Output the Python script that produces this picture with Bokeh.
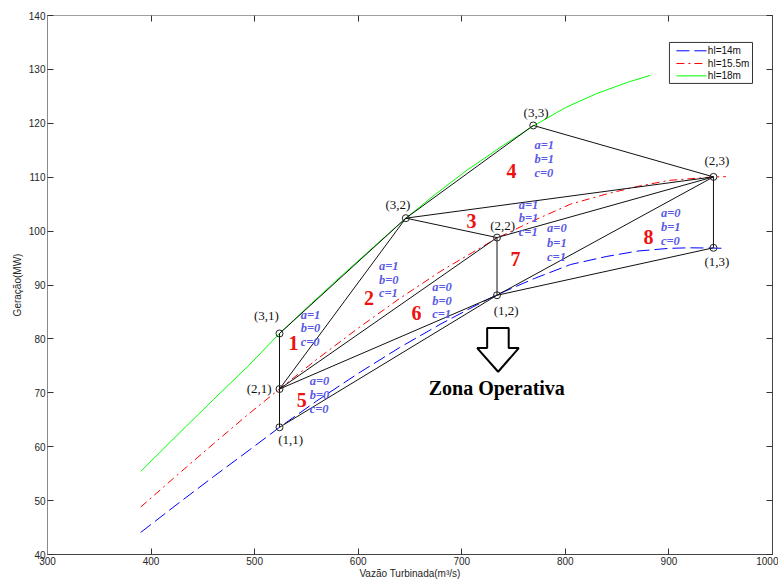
from bokeh.plotting import figure
from bokeh.models import Range1d, LinearAxis, FixedTicker, CustomJSTickFormatter
from bokeh.core.properties import value
from bokeh.embed import file_html
from bokeh.resources import INLINE

# ---------------- data ----------------
x_ticks = [300, 400, 500, 600, 700, 800, 900, 1000]
y_ticks = [40, 50, 60, 70, 80, 90, 100, 110, 120, 130, 140]

# hl = 14 m (blue dashed)
q_14 = [390, 425, 460, 495, 524, 560, 600, 640, 680, 710, 734, 770, 805, 840, 870, 900, 920, 943, 955]
g_14 = [44.1, 49.3, 54.4, 59.4, 63.6, 68.5, 73.6, 78.4, 82.8, 85.85, 88.2, 91.2, 93.8, 95.3, 96.3, 96.8, 96.9, 96.85, 96.8]
# hl = 15.5 m (red dash-dot)
q_155 = [390, 425, 460, 495, 524, 560, 600, 640, 680, 710, 734, 770, 805, 840, 870, 900, 943, 955]
g_155 = [48.8, 54.7, 60.5, 66.2, 70.7, 76.2, 82.0, 87.5, 92.6, 96.0, 98.7, 102.0, 105.0, 106.9, 108.3, 109.4, 110.06, 110.1]
# hl = 18 m (green solid)
q_18 = [390, 425, 460, 495, 524, 555, 585, 615, 646, 675, 705, 740, 769, 800, 830, 860, 882]
g_18 = [55.4, 62.1, 68.7, 75.2, 81.0, 86.6, 91.9, 97.1, 102.4, 106.9, 111.3, 115.9, 119.5, 122.9, 125.5, 127.6, 128.9]

# grid nodes (i,j)
node_names = ["(3,1)", "(2,1)", "(1,1)", "(3,2)", "(2,2)", "(1,2)", "(3,3)", "(2,3)", "(1,3)"]
node_q = [524, 524, 524, 646, 734, 734, 769, 943, 943]
node_g = [81.0, 70.7, 63.6, 102.4, 98.8, 88.1, 119.6, 110.06, 96.9]
# label anchor positions of node names
node_label_q = [511.4, 504.4, 534.8, 638.3, 739.5, 742.8, 771.7, 946.3, 946.3]
node_label_g = [84.4, 70.8, 61.3, 105.0, 101.0, 85.2, 122.0, 113.1, 94.3]

edges = [("(3,1)", "(2,1)"), ("(2,1)", "(1,1)"), ("(3,1)", "(3,2)"), ("(3,2)", "(3,3)"),
         ("(2,1)", "(3,2)"), ("(2,1)", "(2,2)"), ("(2,1)", "(1,2)"), ("(1,1)", "(1,2)"),
         ("(3,2)", "(2,2)"), ("(3,2)", "(2,3)"), ("(3,3)", "(2,3)"), ("(2,2)", "(1,2)"),
         ("(2,2)", "(2,3)"), ("(1,2)", "(2,3)"), ("(1,2)", "(1,3)"), ("(2,3)", "(1,3)")]

# region numbers
region_labels = ["1", "2", "3", "4", "5", "6", "7", "8"]
region_q = [537.4, 610.3, 709.4, 747.9, 545.4, 656.3, 751.8, 880.3]
region_g = [79.2, 87.5, 101.85, 111.1, 68.6, 84.8, 94.9, 98.9]

# binary labels a, b, c for each region
abc_texts = ["a=1", "b=0", "c=0",   # 1
             "a=1", "b=0", "c=1",   # 2
             "a=1", "b=1", "c=1",   # 3
             "a=1", "b=1", "c=0",   # 4
             "a=0", "b=0", "c=0",   # 5
             "a=0", "b=0", "c=1",   # 6
             "a=0", "b=1", "c=1",   # 7
             "a=0", "b=1", "c=0"]   # 8
abc_q = [544.4] * 3 + [620.0] * 3 + [755.0] * 3 + [770.1] * 3 + [553.1] * 3 + [671.4] * 3 + [782.3] * 3 + [892.3] * 3
abc_g = [84.44, 81.98, 79.5,
         93.6, 91.0, 88.5,
         104.9, 102.5, 99.8,
         115.9, 113.3, 110.8,
         72.1, 69.5, 67.0,
         89.7, 87.1, 84.6,
         100.5, 97.8, 95.2,
         103.3, 100.7, 98.1]

# "Zona Operativa" arrow outline and caption
arrow_q = [724.5, 745.3, 745.3, 755.0, 735.1, 714.9, 724.5]
arrow_g = [82.0, 82.0, 78.3, 78.3, 73.9, 78.3, 78.3]
zona_text = ["Zona Operativa"]
zona_q = [733.8]
zona_g = [70.9]

legend_labels = ["hl=14m", "hl=15.5m", "hl=18m"]

# ---------------- figure ----------------
p = figure(width=778, height=581, x_range=Range1d(300, 1000), y_range=Range1d(40, 140),
           output_backend="svg", toolbar_location=None,
           min_border_left=47, min_border_right=6, min_border_top=15, min_border_bottom=26)
p.outline_line_color = None
p.xgrid.visible = False
p.ygrid.visible = False
p.background_fill_color = "white"
p.border_fill_color = "white"


def style_axis(ax, ticks, color):
    ax.ticker = FixedTicker(ticks=ticks)
    ax.major_tick_in = 6
    ax.major_tick_out = 0
    ax.minor_tick_line_color = None
    ax.axis_line_color = color
    ax.major_tick_line_color = "#333333"
    ax.major_label_text_font = "Liberation Sans"
    ax.major_label_text_font_size = "10px"
    ax.major_label_text_color = "#262626"
    ax.major_label_standoff = 2
    ax.axis_label_text_font = "Liberation Sans"
    ax.axis_label_text_font_size = "10px"
    ax.axis_label_text_font_style = "normal"
    ax.axis_label_text_color = "#262626"
    ax.axis_label_standoff = 3


style_axis(p.xaxis[0], x_ticks, "#444444")
style_axis(p.yaxis[0], y_ticks, "#8a8a8a")
p.xaxis[0].axis_label = "Vazão Turbinada(m³/s)"
p.xaxis[0].axis_label_standoff = 0
p.yaxis[0].axis_label = "Geração(MW)"

top_ax = LinearAxis()
right_ax = LinearAxis()
style_axis(top_ax, x_ticks, "#a0a0a0")
style_axis(right_ax, y_ticks, "#444444")
for ax in (top_ax, right_ax):
    ax.formatter = CustomJSTickFormatter(code="return ''")
    ax.major_label_standoff = 0
p.add_layout(top_ax, "above")
p.add_layout(right_ax, "right")

# curve styles
styles = [dict(line_color="#0000ff", line_dash="13 5"),
          dict(line_color="#ff0000", line_dash="8 4 2 4"),
          dict(line_color="#00ff00", line_dash="solid")]

# curves
p.line(q_14, g_14, line_width=1, **styles[0])
p.line(q_155, g_155, line_width=1, **styles[1])
p.line(q_18, g_18, line_width=1, **styles[2])

# edges
pos = {n: (q, g) for n, q, g in zip(node_names, node_q, node_g)}
xs = [[pos[a][0], pos[b][0]] for a, b in edges]
ys = [[pos[a][1], pos[b][1]] for a, b in edges]
p.multi_line(xs, ys, line_color="#111111", line_width=1)

# nodes
p.scatter(node_q, node_g, marker="circle", size=7, fill_color="white", fill_alpha=0.0,
          line_color="#222222", line_width=1)

# node labels
p.text(node_label_q, node_label_g, text=node_names, text_font=value("Liberation Serif"),
       text_font_size="13px", text_color="#111111", text_align="center", text_baseline="middle")

# region numbers
p.text(region_q, region_g, text=region_labels, text_font=value("Liberation Serif"),
       text_font_size="20px", text_font_style="bold", text_color="#ee1111",
       text_align="center", text_baseline="middle")

# a b c labels
p.text(abc_q, abc_g, text=abc_texts, text_font=value("Liberation Serif"),
       text_font_size="12.5px", text_font_style="bold italic", text_color="#5a5ae6",
       text_align="left", text_baseline="middle")

# arrow + caption
p.patch(arrow_q, arrow_g, fill_color="white", line_color="black", line_width=2)
p.text(zona_q, zona_g, text=zona_text, text_font=value("Liberation Serif"),
       text_font_size="20px", text_font_style="bold", text_color="black",
       text_align="center", text_baseline="middle")

# legend (drawn as a box in the upper right of the axes)
leg_left, leg_right, leg_top, leg_bottom = 900.5, 980.7, 135.0, 127.4
leg_sample_x0, leg_sample_x1, leg_text_x = 907.2, 936.3, 937.6
leg_rows = [133.45, 131.1, 128.8]
p.quad(left=[leg_left], right=[leg_right], top=[leg_top], bottom=[leg_bottom],
       fill_color="white", line_color="#333333", line_width=1)
for row, st in zip(leg_rows, styles):
    p.line([leg_sample_x0, leg_sample_x1], [row, row], line_width=1, **st)
p.text([leg_text_x] * 3, leg_rows, text=legend_labels, text_font=value("Liberation Sans"),
       text_font_size="10px", text_color="#111111", text_align="left", text_baseline="middle")

open("out.html", "w").write(file_html(p, INLINE))
